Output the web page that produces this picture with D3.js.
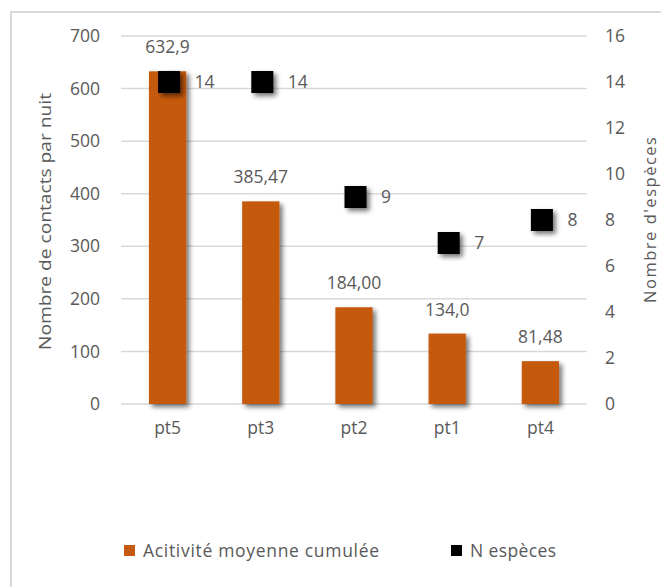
<!DOCTYPE html>
<html>
<head>
<meta charset="utf-8">
<script src="https://cdnjs.cloudflare.com/ajax/libs/d3/7.8.5/d3.min.js"></script>
<style>
  html, body { margin: 0; padding: 0; background: #fff; }
  svg { display: block; }
  text { font-family: "Open Sans", Lato, sans-serif; fill: #595959; }
</style>
</head>
<body>
<svg id="chart" width="661" height="587"></svg>
<script>
// Sites, ordered as on the axis
const categories = ["pt5", "pt3", "pt2", "pt1", "pt4"];
// Mean cumulated activity (contacts per night)
const activity = [632.9, 385.47, 184.00, 134.0, 81.48];
const activityLabels = ["632,9", "385,47", "184,00", "134,0", "81,48"];
// Number of species per site
const species = [14, 14, 9, 7, 8];
// Axis ticks
const leftTicks = [0, 100, 200, 300, 400, 500, 600, 700];
const rightTicks = [0, 2, 4, 6, 8, 10, 12, 14, 16];
const seriesNames = ["Acitivité moyenne cumulée", "N espèces"];

const W = 661, H = 587;
const plot = { left: 121, right: 587, top: 36, bottom: 404 };
const barColor = "#c55a11";
const gridColor = "#d9d9d9";
const fontSize = 17.5;
const titleSize = 16.5;

const svg = d3.select("#chart");

// Soft drop shadow for bars and markers
const defs = svg.append("defs");
const shadow = defs.append("filter").attr("id", "shadow")
  .attr("x", "-50%").attr("y", "-50%").attr("width", "200%").attr("height", "200%");
shadow.append("feGaussianBlur").attr("in", "SourceAlpha").attr("stdDeviation", 2.5).attr("result", "blur");
shadow.append("feOffset").attr("in", "blur").attr("dx", 3).attr("dy", 3).attr("result", "off");
shadow.append("feComponentTransfer").attr("in", "off").attr("result", "soft")
  .append("feFuncA").attr("type", "linear").attr("slope", 0.55);
const merge = shadow.append("feMerge");
merge.append("feMergeNode").attr("in", "soft");
merge.append("feMergeNode").attr("in", "SourceGraphic");

// Chart frame
svg.append("rect")
  .attr("x", 11).attr("y", 12).attr("width", W + 20).attr("height", H + 20)
  .attr("fill", "#fff").attr("stroke", gridColor).attr("stroke-width", 2);

const x = d3.scaleBand().domain(categories).range([plot.left, plot.right]).paddingInner(0.6).paddingOuter(0.3);
const xPoint = d3.scaleBand().domain(categories).range([plot.left, plot.right]);
const yL = d3.scaleLinear().domain([0, 700]).range([plot.bottom, plot.top]);
const yR = d3.scaleLinear().domain([0, 16]).range([plot.bottom, plot.top]);

// Gridlines
svg.append("g").selectAll("line").data(leftTicks).join("line")
  .attr("x1", plot.left).attr("x2", plot.right)
  .attr("y1", d => yL(d)).attr("y2", d => yL(d))
  .attr("stroke", gridColor).attr("stroke-width", 1.5);

// Left axis
const leftAxis = svg.append("g").attr("transform", `translate(${plot.left - 21},0)`)
  .call(d3.axisLeft(yL).tickValues(leftTicks).tickSize(0).tickPadding(0));
leftAxis.select(".domain").remove();
leftAxis.selectAll("text").attr("font-size", fontSize).attr("font-family", null).style("fill", "#595959");

// Right axis
const rightAxis = svg.append("g").attr("transform", `translate(${plot.right + 18},0)`)
  .call(d3.axisRight(yR).tickValues(rightTicks).tickSize(0).tickPadding(0));
rightAxis.select(".domain").remove();
rightAxis.selectAll("text").attr("font-size", fontSize).attr("font-family", null).style("fill", "#595959");

// Category axis
const bottomAxis = svg.append("g").attr("transform", `translate(0,${plot.bottom + 18})`)
  .call(d3.axisBottom(xPoint).tickSize(0).tickPadding(0));
bottomAxis.select(".domain").remove();
bottomAxis.selectAll("text").attr("font-size", fontSize).attr("font-family", null).style("fill", "#595959");

// Bars
svg.append("g").selectAll("rect").data(categories).join("rect")
  .attr("x", (d) => x(d))
  .attr("width", x.bandwidth())
  .attr("y", (d, i) => yL(activity[i]))
  .attr("height", (d, i) => yL(0) - yL(activity[i]))
  .attr("fill", barColor)
  .attr("filter", "url(#shadow)");

// Bar value labels
svg.append("g").selectAll("text").data(categories).join("text")
  .attr("x", d => xPoint(d) + xPoint.bandwidth() / 2)
  .attr("y", (d, i) => yL(activity[i]) - 18)
  .attr("text-anchor", "middle")
  .attr("font-size", fontSize)
  .text((d, i) => activityLabels[i]);

// Species markers
const mSize = 22;
svg.append("g").selectAll("rect").data(categories).join("rect")
  .attr("x", d => xPoint(d) + xPoint.bandwidth() / 2 - mSize / 2 + 1.5)
  .attr("y", (d, i) => yR(species[i]) - mSize / 2)
  .attr("width", mSize).attr("height", mSize)
  .attr("fill", "#000")
  .attr("filter", "url(#shadow)");

// Species labels
svg.append("g").selectAll("text").data(categories).join("text")
  .attr("x", d => xPoint(d) + xPoint.bandwidth() / 2 + 27)
  .attr("y", (d, i) => yR(species[i]))
  .attr("dy", "0.35em")
  .attr("font-size", fontSize)
  .text((d, i) => species[i]);

// Axis titles
svg.append("text")
  .attr("transform", `translate(51,221.5) rotate(-90)`)
  .attr("text-anchor", "middle").attr("font-size", titleSize)
  .attr("textLength", 257).attr("lengthAdjust", "spacingAndGlyphs")
  .text("Nombre de contacts par nuit");
svg.append("text")
  .attr("transform", `translate(656,220) rotate(-90)`)
  .attr("text-anchor", "middle").attr("font-size", titleSize)
  .attr("textLength", 166).attr("lengthAdjust", "spacing")
  .text("Nombre d'espèces");

// Legend
const legend = svg.append("g");
const legendItems = [
  { name: seriesNames[0], color: barColor, x: 124, len: 236 },
  { name: seriesNames[1], color: "#000", x: 451, len: 86 }
];
legend.selectAll("rect").data(legendItems).join("rect")
  .attr("x", d => d.x).attr("y", 545).attr("width", 11).attr("height", 11)
  .attr("fill", d => d.color);
legend.selectAll("text").data(legendItems).join("text")
  .attr("x", d => d.x + 19).attr("y", 551).attr("dy", "0.35em")
  .attr("font-size", fontSize)
  .attr("textLength", d => d.len).attr("lengthAdjust", "spacing")
  .text(d => d.name);
</script>
</body>
</html>
